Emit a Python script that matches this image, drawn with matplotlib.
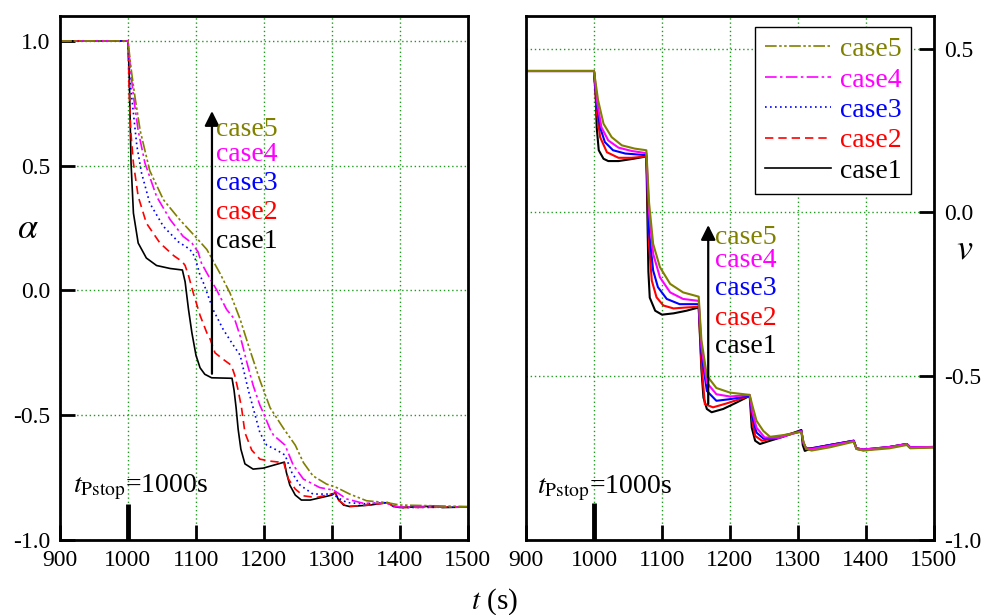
import matplotlib
matplotlib.use("Agg")
import matplotlib.pyplot as plt

plt.rcParams["font.family"] = "serif"
plt.rcParams["font.serif"] = ["Liberation Serif", "DejaVu Serif"]
plt.rcParams["mathtext.fontset"] = "stix"
plt.rcParams["axes.unicode_minus"] = False

# ---- data: rotor angle alpha (left) ----
t_a1 = [900, 1000, 1002, 1003, 1004.5, 1008, 1015, 1027, 1042, 1062, 1080, 1084, 1089, 1094, 1100, 1106, 1113,
        1123, 1153, 1156, 1159, 1162, 1166, 1172, 1184, 1199, 1230, 1233, 1238, 1246, 1255, 1268, 1300, 1305,
        1309, 1317, 1326, 1356, 1382, 1390, 1400, 1454, 1462, 1500]
a1 = [1.0, 1.0, 0.85, 0.71, 0.51, 0.31, 0.19, 0.13, 0.10, 0.088, 0.082, 0.035, -0.076, -0.17, -0.26, -0.31, -0.336,
      -0.35, -0.352, -0.40, -0.47, -0.556, -0.636, -0.695, -0.716, -0.712, -0.688, -0.73, -0.78, -0.82, -0.84,
      -0.84, -0.82, -0.81, -0.836, -0.86, -0.866, -0.86, -0.85, -0.865, -0.87, -0.864, -0.87, -0.868]

t_a2 = [900, 1000, 1002, 1004, 1008, 1015, 1027, 1047, 1067, 1080, 1084, 1089, 1096, 1106, 1116, 1121, 1128, 1140,
        1152, 1157, 1162, 1167, 1172, 1182, 1194, 1209, 1229, 1236, 1246, 1258, 1277, 1300, 1305, 1309, 1318,
        1326, 1356, 1382, 1390, 1400, 1500]
a2 = [1.0, 1.0, 0.78, 0.64, 0.51, 0.377, 0.27, 0.19, 0.14, 0.115, 0.10, 0.06, -0.01, -0.10, -0.17, -0.196, -0.25,
      -0.276, -0.30, -0.34, -0.40, -0.47, -0.57, -0.64, -0.676, -0.684, -0.69, -0.756, -0.796, -0.823, -0.83,
      -0.815, -0.812, -0.84, -0.858, -0.865, -0.86, -0.85, -0.865, -0.87, -0.868]

t_a3 = [900, 1000, 1003, 1008, 1013, 1020, 1032, 1052, 1074, 1091, 1097, 1101, 1106, 1111, 1125, 1140, 1155, 1165,
        1171, 1177, 1187, 1194, 1204, 1219, 1231, 1241, 1253, 1272, 1302, 1308, 1322, 1346, 1382, 1390, 1400, 1500]
a3 = [1.0, 1.0, 0.84, 0.71, 0.58, 0.47, 0.35, 0.257, 0.195, 0.165, 0.14, 0.11, 0.06, 0.03, -0.076, -0.156, -0.22,
      -0.26, -0.33, -0.40, -0.50, -0.57, -0.62, -0.64, -0.66, -0.73, -0.78, -0.816, -0.816, -0.83, -0.85, -0.855,
      -0.85, -0.865, -0.87, -0.868]

t_a4 = [900, 1000, 1004, 1008, 1015, 1025, 1042, 1062, 1081, 1094, 1099, 1103, 1108, 1116, 1130, 1145, 1157, 1165,
        1175, 1184, 1194, 1199, 1209, 1214, 1231, 1243, 1258, 1282, 1302, 1322, 1346, 1380, 1390, 1400, 1500]
a4 = [1.0, 1.0, 0.88, 0.78, 0.64, 0.51, 0.377, 0.284, 0.217, 0.19, 0.17, 0.155, 0.11, 0.07, 0.004, -0.076, -0.116,
      -0.183, -0.29, -0.38, -0.46, -0.49, -0.556, -0.58, -0.62, -0.70, -0.756, -0.79, -0.80, -0.836, -0.853,
      -0.853, -0.862, -0.868, -0.868]

t_a5 = [900, 1000, 1005, 1010, 1018, 1032, 1052, 1076, 1101, 1116, 1135, 1150, 1165, 1179, 1194, 1209, 1228, 1246,
        1258, 1272, 1292, 1307, 1326, 1351, 1380, 1400, 1500]
a5 = [1.0, 1.0, 0.88, 0.78, 0.64, 0.48, 0.364, 0.284, 0.21, 0.164, 0.07, -0.01, -0.116, -0.236, -0.36, -0.47, -0.55,
      -0.62, -0.69, -0.743, -0.776, -0.79, -0.816, -0.843, -0.85, -0.86, -0.866]

# ---- data: velocity v (right) ----
t_v1 = [900, 1000, 1002.5, 1004, 1007, 1014, 1021, 1036, 1055, 1077, 1080, 1082, 1090, 1100, 1117, 1136, 1154, 1158,
        1161, 1166, 1173, 1190, 1210, 1229, 1232, 1237, 1244, 1259, 1278, 1305, 1307, 1310, 1318, 1347, 1382,
        1386, 1396, 1435, 1460, 1465, 1500]
v1 = [0.432, 0.432, 0.36, 0.26, 0.19, 0.164, 0.157, 0.157, 0.163, 0.171, -0.18, -0.26, -0.30, -0.312, -0.308, -0.30,
      -0.29, -0.48, -0.565, -0.60, -0.61, -0.60, -0.58, -0.56, -0.657, -0.697, -0.707, -0.697, -0.685, -0.664,
      -0.71, -0.728, -0.722, -0.71, -0.697, -0.722, -0.726, -0.716, -0.707, -0.718, -0.716]

t_v2 = [900, 1000, 1004, 1009, 1019, 1036, 1055, 1077, 1081, 1085, 1092, 1102, 1117, 1136, 1154, 1158, 1163, 1175,
        1195, 1229, 1233, 1237, 1247, 1262, 1305, 1308, 1312, 1320, 1347, 1382, 1386, 1396, 1435, 1460, 1465, 1500]
v2 = [0.432, 0.432, 0.31, 0.23, 0.184, 0.167, 0.167, 0.171, -0.10, -0.208, -0.259, -0.284, -0.293, -0.29, -0.288,
      -0.46, -0.585, -0.595, -0.583, -0.56, -0.64, -0.682, -0.697, -0.69, -0.667, -0.705, -0.722, -0.72, -0.71,
      -0.697, -0.72, -0.724, -0.716, -0.707, -0.717, -0.716]

t_v3 = [900, 1000, 1004, 1009, 1016, 1028, 1046, 1077, 1081, 1087, 1094, 1107, 1126, 1154, 1158, 1166, 1180, 1200,
        1229, 1233, 1239, 1249, 1267, 1305, 1308, 1312, 1320, 1347, 1382, 1386, 1396, 1435, 1460, 1465, 1500]
v3 = [0.432, 0.432, 0.332, 0.26, 0.215, 0.19, 0.18, 0.175, -0.06, -0.177, -0.228, -0.264, -0.28, -0.28, -0.43,
      -0.545, -0.575, -0.57, -0.56, -0.625, -0.672, -0.69, -0.69, -0.667, -0.705, -0.72, -0.72, -0.71, -0.697,
      -0.72, -0.724, -0.716, -0.707, -0.717, -0.716]

t_v4 = [900, 1000, 1005, 1011, 1021, 1036, 1055, 1077, 1081, 1087, 1097, 1112, 1131, 1154, 1158, 1166, 1180, 1200,
        1229, 1233, 1239, 1251, 1272, 1305, 1308, 1312, 1320, 1347, 1382, 1386, 1396, 1435, 1460, 1465, 1500]
v4 = [0.432, 0.432, 0.332, 0.26, 0.22, 0.198, 0.188, 0.181, 0.0, -0.126, -0.198, -0.244, -0.264, -0.27, -0.41,
      -0.52, -0.555, -0.562, -0.557, -0.61, -0.657, -0.687, -0.688, -0.668, -0.703, -0.72, -0.722, -0.712, -0.698,
      -0.72, -0.724, -0.716, -0.707, -0.717, -0.716]

t_v5 = [900, 1000, 1006, 1014, 1026, 1041, 1060, 1077, 1081, 1087, 1097, 1112, 1131, 1154, 1158, 1166, 1180, 1200,
        1229, 1233, 1239, 1249, 1259, 1278, 1305, 1308, 1312, 1320, 1347, 1382, 1386, 1396, 1435, 1460, 1465, 1500]
v5 = [0.432, 0.432, 0.343, 0.271, 0.23, 0.205, 0.195, 0.19, 0.03, -0.096, -0.167, -0.218, -0.244, -0.257, -0.39,
      -0.498, -0.536, -0.55, -0.557, -0.59, -0.636, -0.667, -0.685, -0.68, -0.67, -0.70, -0.722, -0.727, -0.717,
      -0.70, -0.722, -0.727, -0.72, -0.71, -0.72, -0.718]

case_names = ["case1", "case2", "case3", "case4", "case5"]
colors = ["black", "red", "blue", "magenta", "#808000"]
styles = ["-", (0, (5, 3)), (0, (1, 2)), (0, (7, 2, 1.5, 2)), (0, (7, 1.5, 1.5, 1.5, 1.5, 1.5))]

x_ticks = [900, 1000, 1100, 1200, 1300, 1400, 1500]
a_ticks = [-1.0, -0.5, 0.0, 0.5, 1.0]
a_ticklabels = ["-1.0", "-0.5", "0.0", "0.5", "1.0"]
v_ticks = [-1.0, -0.5, 0.0, 0.5]
v_ticklabels = ["-1.0", "-0.5", "0.0", "0.5"]
t_stop = 1000

alpha_series = [(t_a1, a1), (t_a2, a2), (t_a3, a3), (t_a4, a4), (t_a5, a5)]
v_series = [(t_v1, v1), (t_v2, v2), (t_v3, v3), (t_v4, v4), (t_v5, v5)]

fig = plt.figure(figsize=(9.85, 6.15), dpi=100)
ax1 = fig.add_axes([0.0609, 0.122, 0.4142, 0.852])
ax2 = fig.add_axes([0.534, 0.122, 0.4142, 0.852])

grid_kw = dict(color="#1f9a1f", linestyle=(0, (1, 2)), linewidth=1.0)
tick_fs = 17
lab_fs = 20

# left panel
handles = []
for (tt, yy), c, ls, name in zip(alpha_series, colors, styles, case_names):
    h, = ax1.plot(tt, yy, color=c, linestyle=ls, linewidth=1.2, label=name, zorder=3)
    handles.append(h)
ax1.set_xlim(900, 1500)
ax1.set_ylim(-1.0, 1.1)
ax1.set_xticks(x_ticks)
ax1.set_yticks(a_ticks)
ax1.set_yticklabels(a_ticklabels)
ax1.grid(True, **grid_kw)
ax1.tick_params(axis="both", direction="in", length=11, width=2, labelsize=tick_fs, pad=7,
                top=False, right=False)
ax1.text(-0.078, 0.592, r"$\alpha$", transform=ax1.transAxes, fontsize=26, ha="center", va="center")
ax1.plot([t_stop, t_stop], [-1.0, -0.855], color="black", linewidth=3.5, solid_capstyle="butt", zorder=4)
ax1.text(0.032, 0.1, r"$t_{\rm Pstop}$=1000s", transform=ax1.transAxes, fontsize=20, va="center", ha="left")
ax1.annotate("", xy=(1123.5, 0.73), xytext=(1123.5, -0.345),
             arrowprops=dict(arrowstyle="-|>", color="black", lw=1.6, mutation_scale=22))
a_lab_y = [0.196, 0.312, 0.428, 0.544, 0.644]
for name, c, y in zip(case_names, colors, a_lab_y):
    ax1.text(1130, y, name, color=c, fontsize=lab_fs, va="center", ha="left")

# right panel
for (tt, yy), c, name in zip(v_series, colors, case_names):
    ax2.plot(tt, yy, color=c, linestyle="-", linewidth=1.5, zorder=3)
ax2.set_xlim(900, 1500)
ax2.set_ylim(-1.0, 0.6)
ax2.set_xticks(x_ticks)
ax2.set_yticks(v_ticks)
ax2.set_yticklabels(v_ticklabels)
ax2.grid(True, **grid_kw)
ax2.yaxis.tick_right()
ax2.tick_params(axis="both", direction="in", length=11, width=2, labelsize=tick_fs, pad=7,
                top=False, left=False)
ax2.text(1.076, 0.553, r"$v$", transform=ax2.transAxes, fontsize=26, ha="center", va="center")
ax2.plot([t_stop, t_stop], [-1.0, -0.887], color="black", linewidth=3.5, solid_capstyle="butt", zorder=4)
ax2.text(0.027, 0.099, r"$t_{\rm Pstop}$=1000s", transform=ax2.transAxes, fontsize=20, va="center", ha="left")
ax2.annotate("", xy=(1168, -0.03), xytext=(1168, -0.593),
             arrowprops=dict(arrowstyle="-|>", color="black", lw=1.6, mutation_scale=22))
v_lab_y = [-0.41, -0.325, -0.233, -0.147, -0.077]
for name, c, y in zip(case_names, colors, v_lab_y):
    ax2.text(1178, y, name, color=c, fontsize=lab_fs, va="center", ha="left")

leg = ax2.legend(handles[::-1], case_names[::-1], loc="upper right", bbox_to_anchor=(0.944, 0.979),
                 borderaxespad=0.0, fontsize=lab_fs, frameon=True, fancybox=False, edgecolor="black",
                 framealpha=1, handlelength=2.4, handletextpad=0.3, labelspacing=0.18, borderpad=0.35,
                 labelcolor="linecolor")
leg.get_frame().set_linewidth(1.0)
leg.set_zorder(5)

for ax in (ax1, ax2):
    for sp in ax.spines.values():
        sp.set_linewidth(2)
        sp.set_zorder(6)

fig.text(0.502, 0.022, r"$t$ (s)", fontsize=21, ha="center", va="center")

fig.savefig("out.png", dpi=100)
